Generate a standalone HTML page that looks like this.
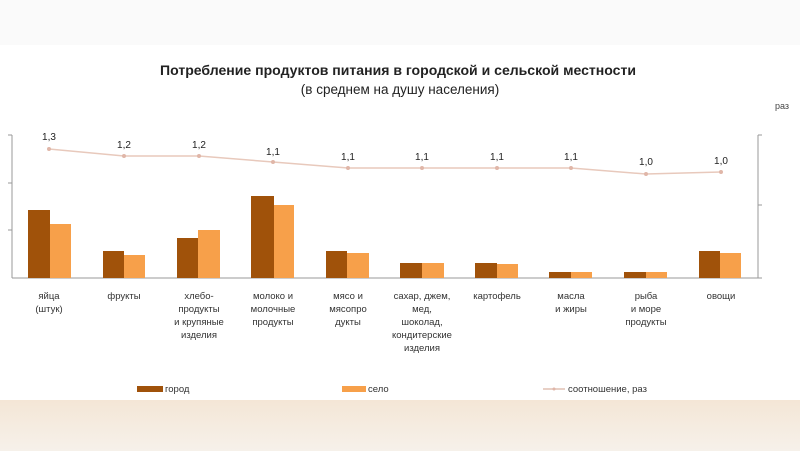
<!DOCTYPE html><html><head><meta charset="utf-8"><style>
body{margin:0;width:800px;height:451px;overflow:hidden;background:#fff;font-family:"Liberation Sans",sans-serif}
</style></head><body>
<svg width="800" height="451" xmlns="http://www.w3.org/2000/svg" font-family="Liberation Sans, sans-serif">
<defs><linearGradient id="b" x1="0" y1="0" x2="0" y2="1"><stop offset="0" stop-color="#f4e6d6"/><stop offset="1" stop-color="#f6f1ea"/></linearGradient></defs>
<rect x="0" y="0" width="800" height="45" fill="#fafafa"/>
<rect x="0" y="400" width="800" height="51" fill="url(#b)"/>
<text x="398" y="75" text-anchor="middle" font-size="13.5" font-weight="bold" fill="#222" textLength="476" lengthAdjust="spacingAndGlyphs">Потребление продуктов питания в городской и сельской местности</text>
<text x="400" y="94" text-anchor="middle" font-size="13.5" fill="#222">(в среднем на душу населения)</text>
<text x="775" y="109" font-size="9" fill="#444">раз</text>
<g stroke="#999" stroke-width="1">
<line x1="12" y1="135" x2="12" y2="278"/><line x1="8" y1="135" x2="12" y2="135"/><line x1="8" y1="183" x2="12" y2="183"/><line x1="8" y1="230" x2="12" y2="230"/>
<line x1="758" y1="135" x2="758" y2="278"/><line x1="758" y1="135" x2="762" y2="135"/><line x1="758" y1="205" x2="762" y2="205"/><line x1="758" y1="278" x2="762" y2="278"/>
<line x1="12" y1="278" x2="758" y2="278"/>
</g>
<g fill="#a0520a">
<rect x="28" y="210" width="22" height="68"/><rect x="103" y="251" width="21" height="27"/><rect x="177" y="238" width="21" height="40"/><rect x="251" y="196" width="23" height="82"/><rect x="326" y="251" width="21" height="27"/><rect x="400" y="263" width="22" height="15"/><rect x="475" y="263" width="22" height="15"/><rect x="549" y="272" width="22" height="6"/><rect x="624" y="272" width="22" height="6"/><rect x="699" y="251" width="21" height="27"/>
</g>
<g fill="#f7a04a">
<rect x="50" y="224" width="21" height="54"/><rect x="124" y="255" width="21" height="23"/><rect x="198" y="230" width="22" height="48"/><rect x="274" y="205" width="20" height="73"/><rect x="347" y="253" width="22" height="25"/><rect x="422" y="263" width="22" height="15"/><rect x="497" y="264" width="21" height="14"/><rect x="571" y="272" width="21" height="6"/><rect x="646" y="272" width="21" height="6"/><rect x="720" y="253" width="21" height="25"/>
</g>
<polyline fill="none" stroke="#e8c9bc" stroke-width="1.5" points="49,149 124,156 199,156 273,162 348,168 422,168 497,168 571,168 646,174 721,172"/>
<g fill="#e0b6a8"><circle cx="49" cy="149" r="2"/><circle cx="124" cy="156" r="2"/><circle cx="199" cy="156" r="2"/><circle cx="273" cy="162" r="2"/><circle cx="348" cy="168" r="2"/><circle cx="422" cy="168" r="2"/><circle cx="497" cy="168" r="2"/><circle cx="571" cy="168" r="2"/><circle cx="646" cy="174" r="2"/><circle cx="721" cy="172" r="2"/></g>
<g font-size="10" fill="#222" text-anchor="middle">
<text x="49" y="140">1,3</text><text x="124" y="148">1,2</text><text x="199" y="148">1,2</text><text x="273" y="155">1,1</text><text x="348" y="160">1,1</text><text x="422" y="160">1,1</text><text x="497" y="160">1,1</text><text x="571" y="160">1,1</text><text x="646" y="165">1,0</text><text x="721" y="164">1,0</text>
</g>
<g font-size="9.5" fill="#333" text-anchor="middle">
<text x="49" y="299">яйца</text><text x="49" y="312">(штук)</text>
<text x="124" y="299">фрукты</text>
<text x="199" y="299">хлебо-</text><text x="199" y="312">продукты</text><text x="199" y="325">и крупяные</text><text x="199" y="338">изделия</text>
<text x="273" y="299">молоко и</text><text x="273" y="312">молочные</text><text x="273" y="325">продукты</text>
<text x="348" y="299">мясо и</text><text x="348" y="312">мясопро</text><text x="348" y="325">дукты</text>
<text x="422" y="299">сахар, джем,</text><text x="422" y="312">мед,</text><text x="422" y="325">шоколад,</text><text x="422" y="338">кондитерские</text><text x="422" y="351">изделия</text>
<text x="497" y="299">картофель</text>
<text x="571" y="299">масла</text><text x="571" y="312">и жиры</text>
<text x="646" y="299">рыба</text><text x="646" y="312">и море</text><text x="646" y="325">продукты</text>
<text x="721" y="299">овощи</text>
</g>
<rect x="137" y="386" width="26" height="6" fill="#a0520a"/><text x="165" y="392" font-size="9.5" fill="#333">город</text>
<rect x="342" y="386" width="24" height="6" fill="#f7a04a"/><text x="368" y="392" font-size="9.5" fill="#333">село</text>
<line x1="543" y1="389" x2="565" y2="389" stroke="#e0c0b4" stroke-width="1.5"/><circle cx="554" cy="389" r="1.5" fill="#e0b6a8"/><text x="568" y="392" font-size="9.5" fill="#333">соотношение, раз</text>
</svg>
</body></html>
